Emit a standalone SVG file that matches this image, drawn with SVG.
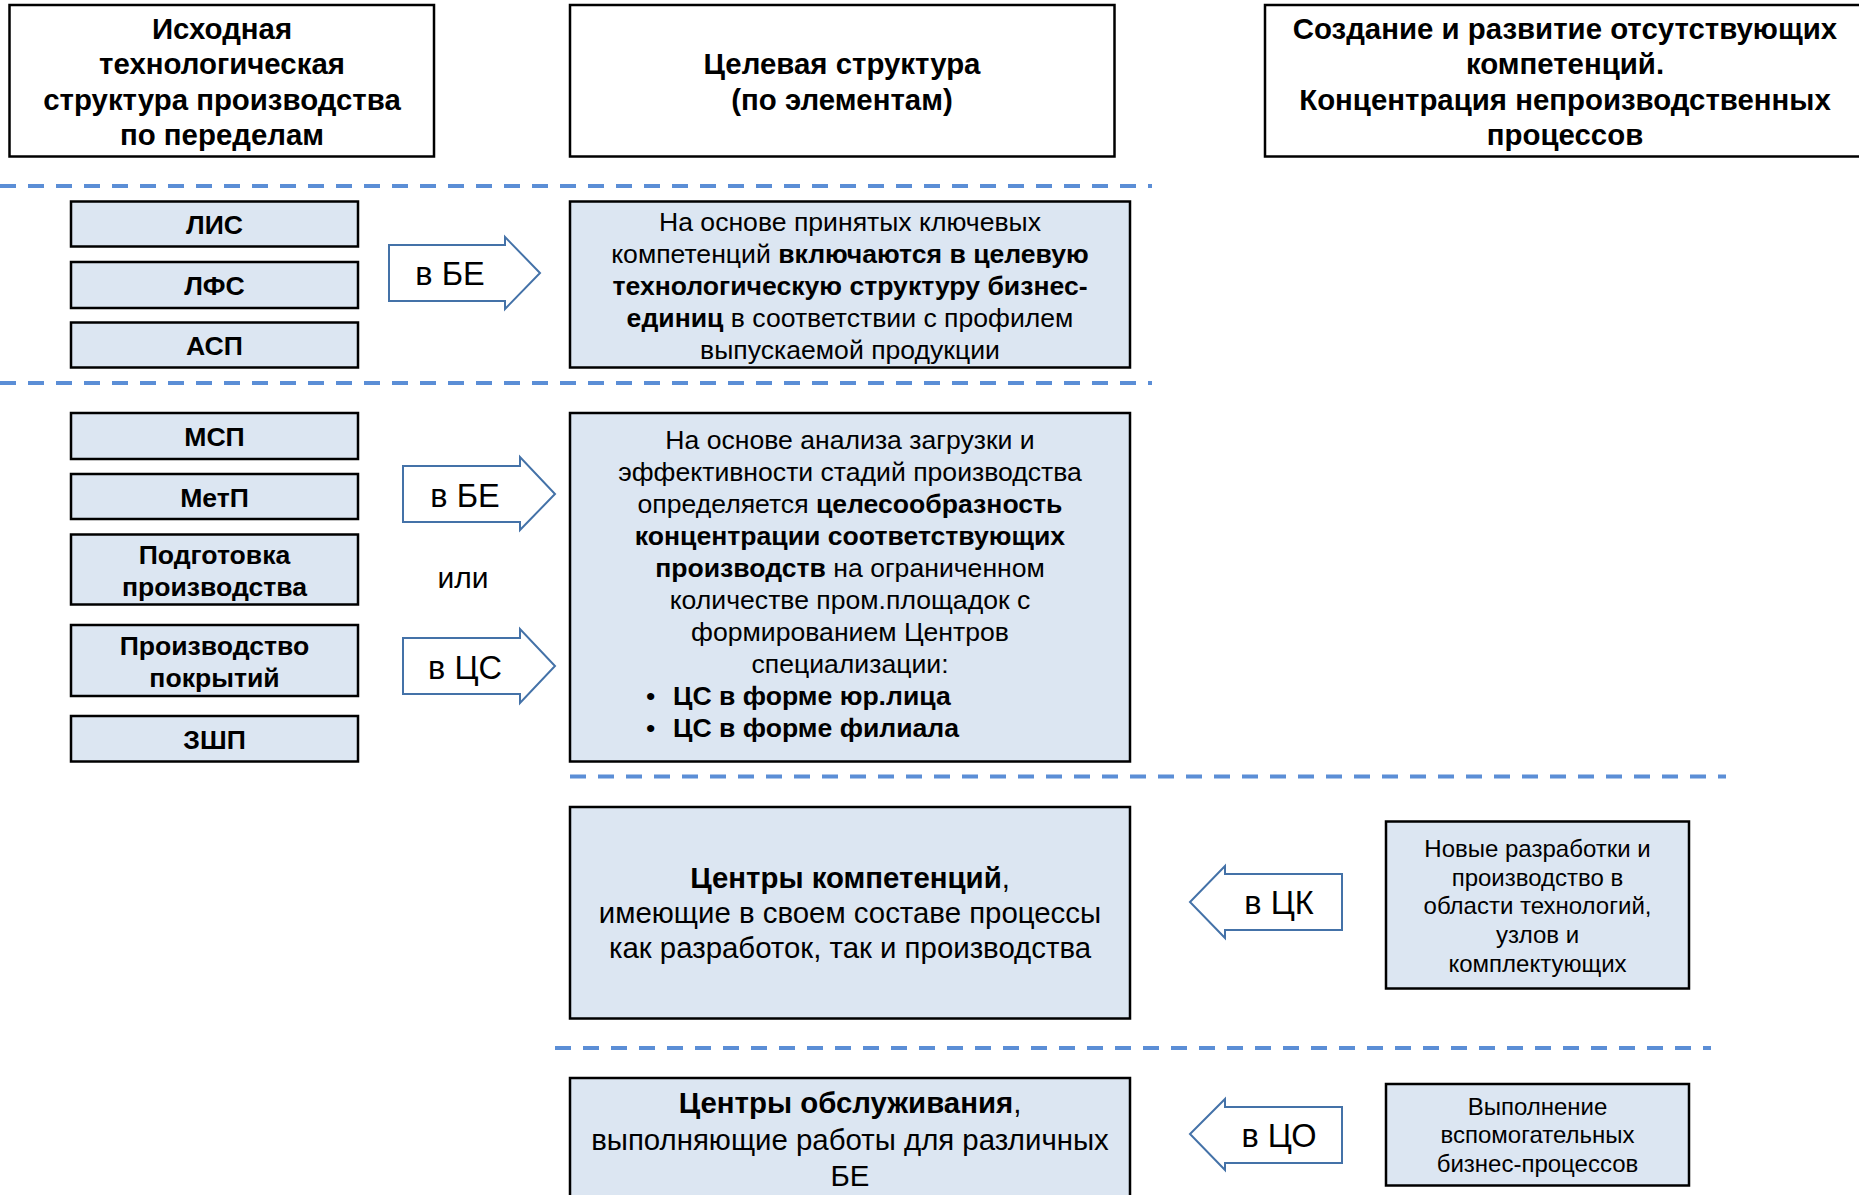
<svg xmlns="http://www.w3.org/2000/svg" width="1859" height="1195" viewBox="0 0 1859 1195">
<style>
text{font-family:"Liberation Sans",Arial,sans-serif;fill:#000}
.hdr{fill:#fff;stroke:#000;stroke-width:2.5}
.box{fill:#DCE6F2;stroke:#000;stroke-width:2.5}
.h{font-size:29.4px;font-weight:bold;text-anchor:middle}
.lbl{font-size:26.6px;font-weight:bold;text-anchor:middle}
.t26{font-size:26.6px;text-anchor:middle}
.t29{font-size:29.4px;text-anchor:middle}
.t23{font-size:24px;text-anchor:middle}
.at{font-size:32.5px;text-anchor:middle}
.b{font-weight:bold}
.dash{stroke:#5B8ED6;stroke-width:4;stroke-dasharray:16 12;fill:none}
.arr{fill:#fff;stroke:#4472A8;stroke-width:2}
</style>
<g id="separators">
<line class="dash" x1="0" y1="186" x2="1152" y2="186"/>
<line class="dash" x1="0" y1="383" x2="1152" y2="383"/>
<line class="dash" x1="570" y1="776.5" x2="1726" y2="776.5"/>
<line class="dash" x1="555" y1="1048" x2="1711" y2="1048"/>
</g>
<g id="header1">
<rect class="hdr" x="9.5" y="5" width="424.5" height="151.5"/>
<text class="h" x="222" y="38.5">Исходная</text>
<text class="h" x="222" y="74">технологическая</text>
<text class="h" x="222" y="109.6">структура производства</text>
<text class="h" x="222" y="145">по переделам</text>
</g>
<g id="header2">
<rect class="hdr" x="570" y="5" width="544.5" height="151.5"/>
<text class="h" x="842" y="74">Целевая структура</text>
<text class="h" x="842" y="109.6">(по элементам)</text>
</g>
<g id="header3">
<rect class="hdr" x="1265" y="5" width="620" height="151.5"/>
<text class="h" x="1565" y="38.5">Создание и развитие отсутствующих</text>
<text class="h" x="1565" y="74">компетенций.</text>
<text class="h" x="1565" y="109.6">Концентрация непроизводственных</text>
<text class="h" x="1565" y="145">процессов</text>
</g>
<g id="lis"><rect class="box" x="71" y="201.5" width="287" height="45"/><text class="lbl" x="214.5" y="233.5">ЛИС</text></g>
<g id="lfs"><rect class="box" x="71" y="262" width="287" height="46"/><text class="lbl" x="214.5" y="294.5">ЛФС</text></g>
<g id="asp"><rect class="box" x="71" y="322.5" width="287" height="45"/><text class="lbl" x="214.5" y="354.5">АСП</text></g>
<g id="msp"><rect class="box" x="71" y="413" width="287" height="46"/><text class="lbl" x="214.5" y="445.5">МСП</text></g>
<g id="metp"><rect class="box" x="71" y="474" width="287" height="45"/><text class="lbl" x="214.5" y="506.5">МетП</text></g>
<g id="podg"><rect class="box" x="71" y="534.5" width="287" height="70"/><text class="lbl" x="214.5" y="564">Подготовка</text><text class="lbl" x="214.5" y="596">производства</text></g>
<g id="pokr"><rect class="box" x="71" y="625" width="287" height="71"/><text class="lbl" x="214.5" y="655">Производство</text><text class="lbl" x="214.5" y="687">покрытий</text></g>
<g id="zshp"><rect class="box" x="71" y="716" width="287" height="45.5"/><text class="lbl" x="214.5" y="748.5">ЗШП</text></g>
<g id="target1">
<rect class="box" x="570" y="201.5" width="560" height="166"/>
<text class="t26" x="850" y="231">На основе принятых ключевых</text>
<text class="t26" x="850" y="263">компетенций <tspan class="b">включаются в целевую</tspan></text>
<text class="t26" x="850" y="295"><tspan class="b">технологическую структуру бизнес-</tspan></text>
<text class="t26" x="850" y="327"><tspan class="b">единиц</tspan> в соответствии с профилем</text>
<text class="t26" x="850" y="359">выпускаемой продукции</text>
</g>
<g id="target2">
<rect class="box" x="570" y="413" width="560" height="348.5"/>
<text class="t26" x="850" y="449">На основе анализа загрузки и</text>
<text class="t26" x="850" y="481">эффективности стадий производства</text>
<text class="t26" x="850" y="513">определяется <tspan class="b">целесообразность</tspan></text>
<text class="t26" x="850" y="545"><tspan class="b">концентрации соответствующих</tspan></text>
<text class="t26" x="850" y="577"><tspan class="b">производств</tspan> на ограниченном</text>
<text class="t26" x="850" y="609">количестве пром.площадок с</text>
<text class="t26" x="850" y="641">формированием Центров</text>
<text class="t26" x="850" y="673">специализации:</text>
<text style="font-size:26.6px" x="646" y="705">•<tspan class="b" x="673">ЦС в форме юр.лица</tspan></text>
<text style="font-size:26.6px" x="646" y="737">•<tspan class="b" x="673">ЦС в форме филиала</tspan></text>
</g>
<g id="ck">
<rect class="box" x="570" y="807" width="560" height="211.5"/>
<text class="t29" x="850" y="888"><tspan class="b">Центры компетенций</tspan>,</text>
<text class="t29" x="850" y="923">имеющие в своем составе процессы</text>
<text class="t29" x="850" y="958">как разработок, так и производства</text>
</g>
<g id="co">
<rect class="box" x="570" y="1078" width="560" height="140"/>
<text class="t29" x="850" y="1113"><tspan class="b">Центры обслуживания</tspan>,</text>
<text class="t29" x="850" y="1150">выполняющие работы для различных</text>
<text class="t29" x="850" y="1186">БЕ</text>
</g>
<g id="newdev">
<rect class="box" x="1386" y="821.5" width="303" height="167"/>
<text class="t23" x="1537.5" y="857">Новые разработки и</text>
<text class="t23" x="1537.5" y="886">производство в</text>
<text class="t23" x="1537.5" y="914">области технологий,</text>
<text class="t23" x="1537.5" y="943">узлов и</text>
<text class="t23" x="1537.5" y="972">комплектующих</text>
</g>
<g id="support">
<rect class="box" x="1386" y="1084" width="303" height="101.5"/>
<text class="t23" x="1537.5" y="1115">Выполнение</text>
<text class="t23" x="1537.5" y="1143">вспомогательных</text>
<text class="t23" x="1537.5" y="1172">бизнес-процессов</text>
</g>
<g id="connectors">
<polygon class="arr" points="389,245 505,245 505,237 540,273 505,309 505,301 389,301"/>
<text class="at" x="450" y="285">в БЕ</text>
<polygon class="arr" points="403,466 520,466 520,457 555,494 520,530 520,522 403,522"/>
<text class="at" x="465" y="507">в БЕ</text>
<text class="at" style="font-size:30px" x="463" y="588">или</text>
<polygon class="arr" points="403,638 520,638 520,629 555,666 520,703 520,694 403,694"/>
<text class="at" x="465" y="679">в ЦС</text>
<polygon class="arr" points="1342,874 1225,874 1225,866 1190,902 1225,938 1225,930 1342,930"/>
<text class="at" x="1279" y="914">в ЦК</text>
<polygon class="arr" points="1342,1107 1225,1107 1225,1099 1190,1134 1225,1170 1225,1163 1342,1163"/>
<text class="at" x="1279" y="1147">в ЦО</text>
</g>
</svg>
